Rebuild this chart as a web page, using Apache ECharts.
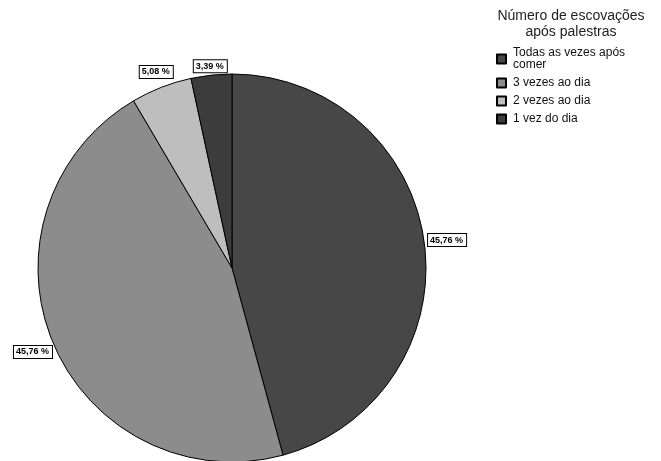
<!DOCTYPE html>
<html>
<head>
<meta charset="utf-8">
<script src="https://cdn.jsdelivr.net/npm/echarts@6/dist/echarts.min.js"></script>
<style>
  html, body { margin: 0; padding: 0; background: #fff; }
  #chart { width: 661px; height: 461px; }
</style>
</head>
<body>
<div id="chart"></div>
<script>
// Answer categories and their share of respondents (%)
const categories = ['Todas as vezes após\ncomer', '3 vezes ao dia', '2 vezes ao dia', '1 vez do dia'];
const percentages = [45.76, 45.76, 5.08, 3.39];
const sliceColors = ['#474747', '#8c8c8c', '#bebebe', '#3c3c3c'];
const legendTitle = 'Número de escovações\napós palestras';

const CX = 232, CY = 268, R = 194;
// small extra shifts so that neighbouring value boxes do not collide
const labelNudge = [[1, -1], [0, 5], [2, -7], [1, 0]];

const total = percentages.reduce((a, b) => a + b, 0);
const midAngles = [];
let acc = 0;
percentages.forEach(v => {
  midAngles.push((acc + v / 2) / total * 2 * Math.PI);
  acc += v;
});

const chart = echarts.init(document.getElementById('chart'), null, { renderer: 'canvas' });
chart.setOption({
  animation: false,
  backgroundColor: '#fff',
  title: {
    text: legendTitle,
    left: 566,
    top: 3,
    textAlign: 'center',
    textStyle: {
      fontFamily: 'Liberation Sans, Arial, sans-serif',
      fontSize: 14,
      fontWeight: 'normal',
      color: '#222',
      lineHeight: 16
    }
  },
  legend: {
    orient: 'vertical',
    left: 496,
    top: 47,
    padding: 0,
    itemWidth: 9,
    itemHeight: 9,
    itemGap: 6,
    icon: 'rect',
    textStyle: {
      fontFamily: 'Liberation Sans, Arial, sans-serif',
      fontSize: 12,
      color: '#111',
      lineHeight: 12,
      padding: [0, 0, 0, 2]
    },
    data: categories
  },
  series: [{
    type: 'pie',
    center: [CX, CY],
    radius: R,
    startAngle: 90,
    clockwise: true,
    avoidLabelOverlap: false,
    itemStyle: { borderColor: '#000', borderWidth: 1 },
    emphasis: { disabled: true },
    labelLine: { show: false },
    label: {
      show: true,
      position: 'outside',
      formatter: p => p.value.toFixed(2).replace('.', ',') + ' %',
      fontFamily: 'Liberation Sans, Arial, sans-serif',
      fontSize: 9,
      fontWeight: 'bold',
      color: '#000',
      backgroundColor: '#fff',
      borderColor: '#000',
      borderWidth: 1,
      padding: [2, 3, 1, 2]
    },
    labelLayout: function (params) {
      const i = params.dataIndex;
      const a = midAngles[i];
      const dx = Math.sin(a), dy = -Math.cos(a);
      const w = params.labelRect.width, h = params.labelRect.height;
      const px = CX + R * dx, py = CY + R * dy;
      const cx = px + dx * (w / 2 + 2) + labelNudge[i][0];
      const cy = py + dy * (h / 2 + 2) + labelNudge[i][1];
      return { x: cx, y: cy, align: 'center', verticalAlign: 'middle' };
    },
    data: categories.map((name, i) => ({
      name: name,
      value: percentages[i],
      itemStyle: { color: sliceColors[i] }
    }))
  }]
});
</script>
</body>
</html>
